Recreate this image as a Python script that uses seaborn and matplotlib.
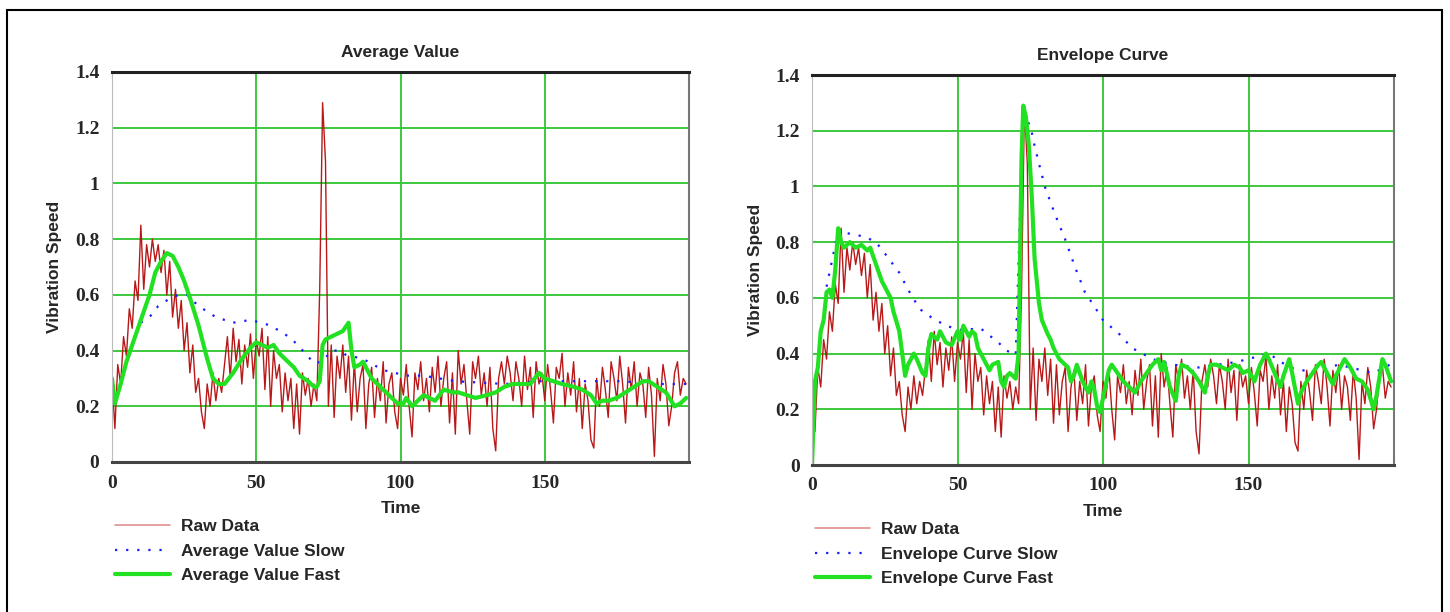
import numpy as np
import matplotlib.pyplot as plt
import seaborn as sns
from matplotlib.lines import Line2D
from matplotlib.patches import Rectangle

# raw vibration signal, one sample per time unit (t = 0..199)
raw_speed = [
    0.30, 0.12, 0.35, 0.28, 0.45, 0.38, 0.55, 0.48, 0.65, 0.58,
    0.85, 0.62, 0.78, 0.70, 0.80, 0.72, 0.78, 0.68, 0.76, 0.60,
    0.72, 0.52, 0.62, 0.48, 0.58, 0.40, 0.50, 0.32, 0.42, 0.25,
    0.30, 0.18, 0.12, 0.28, 0.20, 0.32, 0.22, 0.30, 0.25, 0.35,
    0.45, 0.30, 0.48, 0.36, 0.44, 0.28, 0.42, 0.34, 0.46, 0.30,
    0.44, 0.38, 0.48, 0.26, 0.45, 0.20, 0.40, 0.30, 0.35, 0.18,
    0.32, 0.22, 0.30, 0.12, 0.28, 0.10, 0.32, 0.24, 0.30, 0.20,
    0.28, 0.22, 0.62, 1.29, 1.08, 0.20, 0.42, 0.16, 0.38, 0.30,
    0.42, 0.25, 0.38, 0.15, 0.36, 0.18, 0.30, 0.35, 0.12, 0.28,
    0.34, 0.16, 0.30, 0.22, 0.36, 0.14, 0.28, 0.32, 0.18, 0.12,
    0.30, 0.24, 0.35, 0.20, 0.09, 0.32, 0.26, 0.36, 0.22, 0.30,
    0.18, 0.34, 0.25, 0.38, 0.20, 0.30, 0.36, 0.14, 0.32, 0.10,
    0.40, 0.28, 0.35, 0.22, 0.10, 0.36, 0.30, 0.38, 0.24, 0.32,
    0.20, 0.34, 0.12, 0.04, 0.30, 0.36, 0.28, 0.38, 0.32, 0.22,
    0.36, 0.30, 0.20, 0.38, 0.26, 0.34, 0.16, 0.36, 0.28, 0.32,
    0.22, 0.35, 0.26, 0.14, 0.34, 0.30, 0.39, 0.20, 0.32, 0.24,
    0.36, 0.18, 0.30, 0.12, 0.28, 0.22, 0.08, 0.05, 0.30, 0.20,
    0.34, 0.26, 0.16, 0.36, 0.30, 0.22, 0.38, 0.28, 0.14, 0.34,
    0.26, 0.36, 0.20, 0.32, 0.28, 0.16, 0.34, 0.24, 0.02, 0.30,
    0.22, 0.35, 0.28, 0.13, 0.20, 0.32, 0.36, 0.24, 0.30, 0.28,
]
raw_time = list(range(len(raw_speed)))

# average value, fast
avg_fast_time = [0, 1, 3, 5, 8, 10, 13, 15, 17, 19, 21, 23, 25, 27, 30, 33, 35, 37, 39, 42,
                 45, 48, 50, 52, 54, 56, 58, 60, 63, 65, 68, 70, 71, 72, 73, 74, 76, 78, 80, 82,
                 83, 84, 86, 87, 90, 93, 96, 99, 101, 102, 104, 106, 108, 110, 112, 115, 118, 120, 123, 126,
                 130, 133, 136, 139, 142, 145, 148, 150, 153, 156, 160, 163, 166, 168, 170, 172, 175, 178, 181, 184,
                 186, 189, 192, 195, 197, 199]
avg_fast = [0.30, 0.21, 0.28, 0.36, 0.45, 0.51, 0.60, 0.68, 0.72, 0.75, 0.74, 0.70, 0.65, 0.59, 0.49, 0.37, 0.30, 0.28, 0.28, 0.32,
            0.37, 0.41, 0.43, 0.42, 0.41, 0.42, 0.39, 0.37, 0.34, 0.31, 0.29, 0.27, 0.27, 0.29, 0.42, 0.44, 0.45, 0.46, 0.47, 0.50,
            0.40, 0.34, 0.35, 0.36, 0.30, 0.27, 0.24, 0.21, 0.21, 0.23, 0.20, 0.22, 0.24, 0.23, 0.22, 0.26, 0.25, 0.25, 0.24, 0.23,
            0.24, 0.25, 0.27, 0.28, 0.28, 0.28, 0.32, 0.30, 0.29, 0.28, 0.27, 0.26, 0.24, 0.21, 0.22, 0.22, 0.23, 0.25, 0.27, 0.29,
            0.29, 0.27, 0.25, 0.20, 0.21, 0.23]

# average value, slow
avg_slow_time = [10, 14, 16, 19, 23, 26, 30, 36, 42, 48, 55, 62, 67, 70, 73, 76, 79, 81, 87, 94,
                 102, 108, 119, 128, 136, 148, 160, 165, 177, 188, 199]
avg_slow = [0.50, 0.53, 0.56, 0.58, 0.60, 0.60, 0.56, 0.52, 0.50, 0.51, 0.49, 0.445, 0.39, 0.355, 0.36, 0.40, 0.40, 0.385, 0.37, 0.33,
            0.31, 0.31, 0.29, 0.285, 0.28, 0.29, 0.29, 0.29, 0.29, 0.28, 0.28]

# envelope curve, fast
env_fast_time = [0, 1, 2, 3, 4, 5, 6, 7, 8, 9, 10, 11, 13, 15, 17, 19, 20, 22, 24, 25,
                 27, 28, 30, 31, 32, 33, 35, 36, 38, 39, 40, 41, 43, 44, 46, 48, 50, 51, 52, 54,
                 55, 56, 57, 58, 60, 61, 62, 64, 65, 66, 67, 68, 70, 71, 72, 72.6, 73.5, 74.5, 75.5, 76.5,
                 78, 79, 81, 82, 83, 85, 86, 88, 89, 90, 91, 93, 95, 96, 97, 98, 99, 100, 102, 103,
                 105, 107, 109, 111, 113, 115, 117, 119, 120, 121, 123, 125, 126, 127, 129, 131, 133, 135, 136, 137,
                 139, 141, 143, 145, 147, 148, 150, 152, 154, 156, 157, 159, 161, 162, 164, 165, 167, 168, 170, 172,
                 174, 175, 177, 179, 180, 182, 183, 185, 187, 189, 191, 193, 194, 196, 197, 199]
env_fast = [0.00, 0.30, 0.35, 0.48, 0.52, 0.62, 0.63, 0.60, 0.70, 0.85, 0.80, 0.78, 0.80, 0.78, 0.79, 0.77, 0.78, 0.72, 0.66, 0.64,
            0.60, 0.55, 0.48, 0.40, 0.32, 0.36, 0.40, 0.38, 0.33, 0.32, 0.42, 0.47, 0.45, 0.48, 0.44, 0.43, 0.48, 0.45, 0.50, 0.46,
            0.48, 0.47, 0.42, 0.40, 0.36, 0.34, 0.36, 0.37, 0.30, 0.28, 0.32, 0.33, 0.31, 0.40, 1.10, 1.29, 1.25, 1.15, 0.97, 0.74,
            0.58, 0.52, 0.47, 0.45, 0.42, 0.38, 0.37, 0.35, 0.30, 0.32, 0.36, 0.30, 0.26, 0.30, 0.27, 0.21, 0.19, 0.24, 0.34, 0.36,
            0.33, 0.30, 0.28, 0.26, 0.30, 0.33, 0.36, 0.38, 0.34, 0.37, 0.28, 0.23, 0.32, 0.36, 0.35, 0.33, 0.30, 0.26, 0.32, 0.36,
            0.36, 0.35, 0.34, 0.36, 0.35, 0.33, 0.34, 0.30, 0.36, 0.40, 0.38, 0.33, 0.28, 0.32, 0.38, 0.33, 0.22, 0.26, 0.30, 0.33,
            0.36, 0.37, 0.33, 0.29, 0.32, 0.36, 0.38, 0.35, 0.31, 0.30, 0.27, 0.20, 0.25, 0.38, 0.36, 0.30]

# envelope curve, slow
env_slow_time = [5, 9, 13, 18, 22, 25, 30, 33, 37, 41, 46, 51, 58, 64, 67, 70, 72.5, 75, 76.6, 80,
                 83.5, 87, 90.4, 93.8, 97, 100, 105.6, 110, 117, 124, 133, 146, 157, 164, 171, 181, 193, 199.5]
env_slow = [0.64, 0.84, 0.83, 0.82, 0.80, 0.76, 0.69, 0.63, 0.56, 0.53, 0.50, 0.485, 0.49, 0.44, 0.41, 0.395, 1.25, 1.22, 1.14, 1.00,
            0.90, 0.81, 0.71, 0.62, 0.57, 0.52, 0.47, 0.42, 0.38, 0.36, 0.35, 0.37, 0.40, 0.35, 0.335, 0.36, 0.33, 0.365]

y_ticks = [0, 0.2, 0.4, 0.6, 0.8, 1, 1.2, 1.4]
y_tick_labels = ['0', '0.2', '0.4', '0.6', '0.8', '1', '1.2', '1.4']
x_ticks = [0, 50, 100, 150]

sns.set_style('white')
plt.rcParams['font.family'] = ['Liberation Sans', 'DejaVu Sans']

raw_color = '#b81818'
slow_color = '#1a1aff'
fast_color = '#22e022'
grid_color = '#3cc83c'

fig = plt.figure(figsize=(14.5, 6.12), dpi=100)
fig.patches.append(Rectangle((7 / 1450, -0.05), 1435 / 1450, 1.05 - 10 / 612,
                             transform=fig.transFigure, fill=False, edgecolor='black', lw=1.5))

panels = [
    ([112 / 1450, 1 - 462 / 612, 577 / 1450, 390 / 612], 'Average Value',
     avg_slow_time, avg_slow, avg_fast_time, avg_fast, 'Average Value'),
    ([812 / 1450, 1 - 465 / 612, 582 / 1450, 390 / 612], 'Envelope Curve',
     env_slow_time, env_slow, env_fast_time, env_fast, 'Envelope Curve'),
]

for rect, title, ts, vs, tf, vf, name in panels:
    ax = fig.add_axes(rect)
    sns.lineplot(x=raw_time, y=raw_speed, ax=ax, color=raw_color, lw=1.0)
    sns.lineplot(x=ts, y=vs, ax=ax, color=slow_color, lw=1.6, linestyle=(0, (1, 4)))
    sns.lineplot(x=tf, y=vf, ax=ax, color=fast_color, lw=3.0)

    ax.set_xlim(0, 200)
    ax.set_ylim(0, 1.4)
    ax.set_xticks(x_ticks)
    ax.set_yticks(y_ticks)
    ax.set_yticklabels(y_tick_labels)
    ax.grid(True, color=grid_color, lw=1.4)
    ax.set_axisbelow(True)
    ax.tick_params(length=0, pad=9)
    for lab in ax.get_xticklabels() + ax.get_yticklabels():
        lab.set_family('Liberation Serif')
        lab.set_fontweight('bold')
        lab.set_fontsize(14)

    ax.spines['top'].set_color('#222222')
    ax.spines['top'].set_linewidth(2.2)
    ax.spines['bottom'].set_color('#444444')
    ax.spines['bottom'].set_linewidth(2.2)
    ax.spines['left'].set_color('#bbbbbb')
    ax.spines['right'].set_color('#777777')
    ax.spines['right'].set_linewidth(1.5)

    ax.set_title(title, fontsize=12.5, fontweight='bold', pad=11)
    ax.set_xlabel('Time', fontsize=12.5, fontweight='bold', labelpad=7)
    ax.set_ylabel('Vibration Speed', fontsize=12.5, fontweight='bold', labelpad=9)

    handles = [
        Line2D([], [], color='#e09090', lw=1.2),
        Line2D([], [], color=slow_color, lw=1.6, linestyle=(0, (1, 4))),
        Line2D([], [], color=fast_color, lw=3.0),
    ]
    labels = ['Raw Data', name + ' Slow', name + ' Fast']
    ax.legend(handles, labels, loc='upper left', bbox_to_anchor=(0.005, -0.145),
              frameon=False, handlelength=3.2, handletextpad=0.6,
              labelspacing=0.56, borderaxespad=0, borderpad=0,
              prop={'weight': 'bold', 'size': 12.5})

fig.savefig('out.png', dpi=100)
